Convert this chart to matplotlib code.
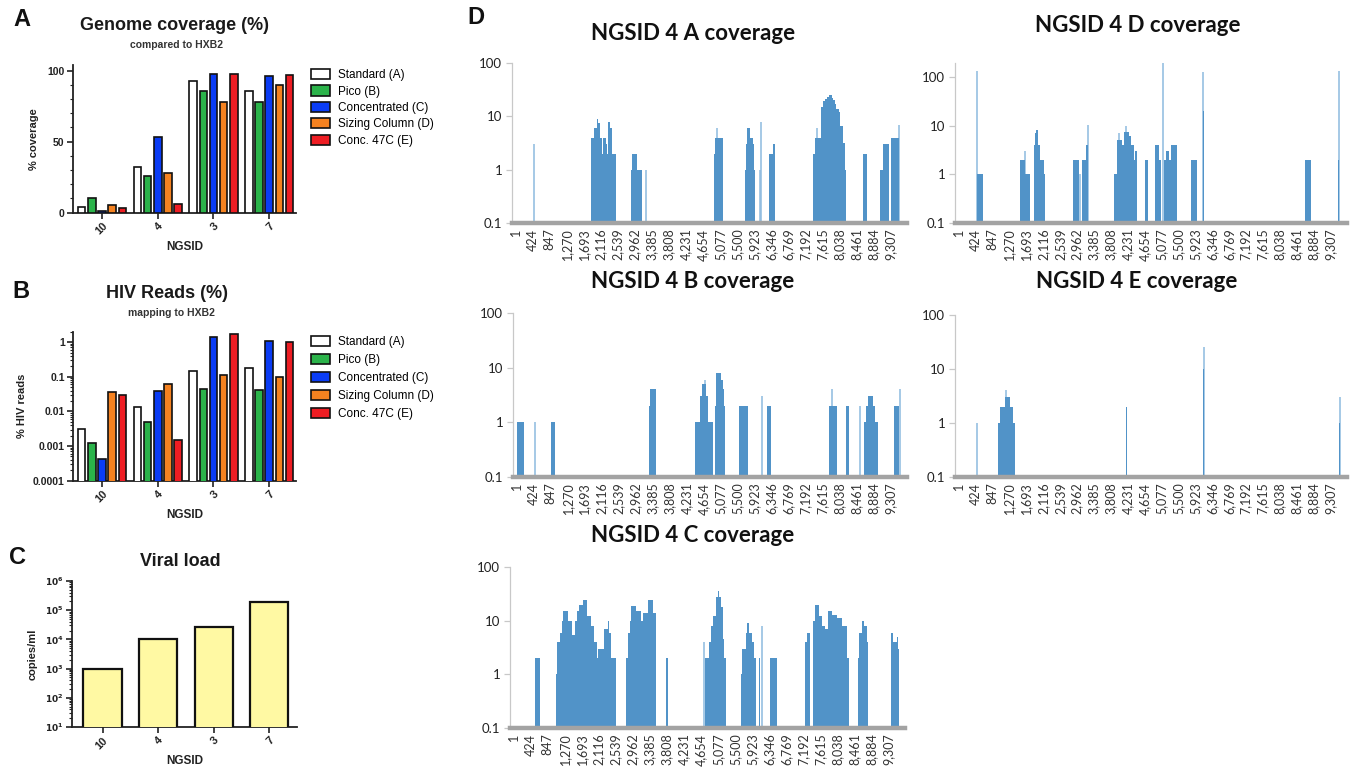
import matplotlib
matplotlib.use("Agg")
import matplotlib.pyplot as plt
from matplotlib.patches import Patch
from matplotlib.ticker import FixedLocator, NullFormatter, MultipleLocator, LogLocator

# ---------------------------------------------------------------- data
ngsid = ["10", "4", "3", "7"]
methods = ["Standard (A)", "Pico (B)", "Concentrated (C)", "Sizing Column (D)", "Conc. 47C (E)"]
method_colors = ["#ffffff", "#2bb34a", "#0a3cf5", "#f58220", "#ee1d23"]

# genome coverage (%) per method, columns follow ngsid order
coverage_standard = [4.2, 32, 93, 86]
coverage_pico = [10, 26, 86, 78]
coverage_conc = [1.2, 53, 97.6, 96]
coverage_sizing = [5.2, 28, 78, 90]
coverage_conc47 = [3, 6, 97.6, 96.7]

# HIV reads (%) per method
reads_standard = [0.0032, 0.013, 0.15, 0.178]
reads_pico = [0.0012, 0.005, 0.045, 0.042]
reads_conc = [0.00042, 0.039, 1.4, 1.07]
reads_sizing = [0.036, 0.061, 0.112, 0.098]
reads_conc47 = [0.030, 0.0015, 1.74, 1.0]

viral_load = [1000, 10000, 27000, 187000]

# depth of coverage along HXB2 for NGSID 4: (start, end, depth) runs and single-position peaks
cov4A_runs = [(1878, 1944, 4), (1944, 2010, 6), (2010, 2051, 9), (2051, 2093, 7.5), (2093, 2134, 4),
              (2134, 2167, 2), (2167, 2233, 4), (2233, 2275, 3), (2275, 2300, 2), (2300, 2341, 8),
              (2341, 2399, 6), (2399, 2482, 2),
              (2854, 2895, 1), (2895, 3003, 2), (3003, 3127, 1),
              (4922, 4947, 2), (4947, 5145, 4),
              (5691, 5724, 1), (5724, 5757, 3), (5757, 5832, 6), (5832, 5890, 4), (5890, 5915, 3), (5915, 5939, 1),
              (6303, 6394, 2), (6394, 6436, 3),
              (7379, 7428, 2), (7428, 7594, 4), (7594, 7627, 15), (7627, 7676, 19), (7676, 7734, 21),
              (7734, 7776, 23), (7776, 7858, 25), (7858, 7883, 22), (7883, 7941, 20), (7941, 7966, 17),
              (7966, 8024, 14), (8024, 8065, 12), (8065, 8123, 6.5), (8123, 8173, 3.2), (8173, 8206, 1),
              (8619, 8735, 2),
              (9058, 9116, 1), (9116, 9281, 3),
              (9331, 9513, 4)]
cov4A_peaks = [(455, 3), (3226, 1), (5005, 6), (6072, 1), (6105, 8), (7486, 6), (9520, 7)]

cov4B_runs = [(1, 182, 1), (844, 951, 1),
              (3292, 3325, 2), (3325, 3474, 4),
              (4442, 4566, 1), (4566, 4616, 3), (4616, 4715, 5), (4715, 4757, 3), (4757, 4881, 1),
              (4947, 4963, 2), (4963, 5088, 8), (5088, 5129, 6), (5129, 5145, 4), (5145, 5187, 2),
              (5526, 5749, 2), (6245, 6328, 2), (7776, 7982, 2), (8189, 8272, 2),
              (8644, 8702, 1), (8702, 8752, 2), (8752, 8876, 3), (8876, 8934, 2), (8934, 9000, 1),
              (9389, 9529, 2)]
cov4B_peaks = [(455, 1), (4690, 6), (6105, 3), (7858, 4), (8561, 2), (9535, 4)]

cov4C_runs = [(535, 659, 2),
              (1054, 1087, 1), (1087, 1153, 4), (1153, 1194, 6), (1194, 1235, 10), (1235, 1359, 15),
              (1359, 1441, 10), (1441, 1523, 5.5), (1523, 1570, 10), (1570, 1631, 15), (1631, 1720, 20),
              (1720, 1812, 24), (1812, 1911, 12), (1911, 1993, 8), (1993, 2059, 4), (2059, 2100, 2),
              (2100, 2240, 3), (2240, 2347, 7), (2347, 2372, 10), (2372, 2429, 6), (2429, 2553, 2),
              (2783, 2841, 2), (2841, 2880, 6), (2880, 2923, 10), (2923, 3047, 19), (3047, 3170, 15),
              (3170, 3212, 10), (3212, 3335, 14), (3335, 3459, 24), (3459, 3541, 14),
              (3772, 3830, 2),
              (4760, 4859, 2), (4859, 4900, 4), (4900, 4941, 8), (4941, 5023, 12), (5023, 5065, 28),
              (5065, 5106, 35), (5106, 5147, 28), (5147, 5188, 18), (5188, 5229, 4.5), (5229, 5270, 2),
              (5641, 5682, 1), (5682, 5765, 3), (5765, 5806, 6), (5806, 5847, 9), (5847, 5929, 6),
              (5929, 5970, 4), (5970, 6012, 2),
              (6100, 6120, 2), (6357, 6547, 2),
              (7247, 7288, 4), (7288, 7370, 6),
              (7428, 7477, 10), (7477, 7576, 20), (7576, 7658, 12), (7658, 7741, 8), (7741, 7806, 7),
              (7806, 7906, 15), (7906, 8029, 13), (8029, 8152, 11), (8152, 8276, 8), (8276, 8317, 2),
              (8548, 8589, 2), (8589, 8647, 6), (8647, 8713, 10), (8713, 8770, 8), (8770, 8795, 4),
              (9371, 9429, 6), (9429, 9511, 4), (9511, 9536, 5), (9536, 9569, 3)]
cov4C_peaks = [(4735, 4), (6176, 8)]

cov4D_runs = [(471, 620, 1),
              (1547, 1654, 2), (1654, 1778, 1),
              (1878, 1903, 4), (1903, 1944, 7), (1944, 1985, 8), (1985, 2027, 4), (2027, 2126, 2), (2126, 2167, 1),
              (2870, 3019, 2), (3085, 3185, 2), (3185, 3226, 4),
              (3888, 3971, 1), (3971, 4078, 5), (4078, 4136, 4), (4136, 4260, 7.5), (4260, 4318, 6),
              (4318, 4384, 4), (4384, 4426, 2), (4426, 4467, 3),
              (4674, 4740, 2),
              (4905, 5021, 4), (5021, 5063, 2), (5129, 5187, 2), (5187, 5269, 3), (5269, 5319, 2), (5319, 5460, 4),
              (5807, 5972, 2), (6110, 6135, 20), (8661, 8826, 2), (9500, 9525, 2)]
cov4D_peaks = [(455, 130), (1654, 3), (3044, 1), (3234, 10.5), (4020, 7), (4190, 10),
               (5104, 200), (6121, 128), (9513, 130)]

cov4E_runs = [(993, 1034, 1), (1034, 1158, 2), (1158, 1282, 3), (1282, 1365, 2), (1365, 1406, 1),
              (4177, 4215, 2), (6125, 6150, 10), (9525, 9550, 1)]
cov4E_peaks = [(455, 1), (1183, 4), (6138, 26), (9538, 3)]

genome_ticks = list(range(1, 9720, 423))

# ---------------------------------------------------------------- figure
W, H = 1353, 769
fig = plt.figure(figsize=(W / 100, H / 100), dpi=100)
SANS = ["Liberation Sans", "DejaVu Sans"]
XLS = ["Lato", "DejaVu Sans"]


def px_axes(left, top, right, bottom):
    return fig.add_axes([left / W, 1 - bottom / H, (right - left) / W, (bottom - top) / H])


def ftext(x, y, s, **kw):
    fig.text(x / W, 1 - y / H, s, ha="center", va="center", **kw)


def prism_axes(ax):
    for side in ("top", "right"):
        ax.spines[side].set_visible(False)
    for side in ("left", "bottom"):
        ax.spines[side].set_linewidth(1.3)
        ax.spines[side].set_color("#222222")
    ax.tick_params(axis="both", which="major", length=4, width=1.2, color="#222222")
    ax.tick_params(axis="both", which="minor", length=2, width=0.8, color="#222222")
    ax.tick_params(axis="y", labelsize=7.5, pad=2)
    ax.tick_params(axis="x", labelsize=8, pad=2)
    for lab in ax.get_xticklabels() + ax.get_yticklabels():
        lab.set_family(SANS)
        lab.set_fontweight("bold")
        lab.set_color("#222222")


def grouped_bars(ax, series):
    pitch, width = 0.183, 0.135
    for i, (vals, col) in enumerate(zip(series, method_colors)):
        xs = [g + (i - 2) * pitch for g in range(len(ngsid))]
        ax.bar(xs, vals, width=width, color=col, edgecolor="#111111", linewidth=1.2, zorder=3)
    ax.set_xticks(range(len(ngsid)))
    ax.set_xticklabels(ngsid, rotation=45, ha="right", rotation_mode="anchor")
    ax.set_xlim(-0.52, 3.48)


def legend(ax, x, y, spacing):
    handles = [Patch(facecolor=c, edgecolor="#111111", linewidth=1.2) for c in method_colors]
    ax.legend(handles, methods, loc="upper left", bbox_to_anchor=(x / W, 1 - y / H),
              bbox_transform=fig.transFigure, frameon=False, handlelength=1.6, handleheight=0.95,
              handletextpad=0.7, labelspacing=spacing, borderpad=0, borderaxespad=0,
              prop={"family": SANS, "size": 8.5})


# ---------------- panel A: genome coverage
axA = px_axes(73, 65, 296, 212.7)
grouped_bars(axA, [coverage_standard, coverage_pico, coverage_conc, coverage_sizing, coverage_conc47])
axA.set_ylim(0, 104)
axA.set_yticks([0, 50, 100])
axA.yaxis.set_minor_locator(MultipleLocator(10))
prism_axes(axA)
axA.set_ylabel("% coverage", family=SANS, fontweight="bold", fontsize=8, labelpad=6, color="#222222")
axA.set_xlabel("NGSID", family=SANS, fontweight="bold", fontsize=8.5, labelpad=3, color="#222222")
legend(axA, 311, 69, 0.36)
ftext(174, 25, "Genome coverage (%)", family=SANS, fontweight="bold", fontsize=13, color="#1a1a1a")
ftext(176, 45, "compared to HXB2", family=SANS, fontweight="bold", fontsize=7.5, color="#333333")
ftext(22, 20, "A", family=SANS, fontweight="bold", fontsize=17, color="#111111")

# ---------------- panel B: HIV reads
axB = px_axes(73, 331.7, 296, 480.7)
axB.set_yscale("log")
grouped_bars(axB, [reads_standard, reads_pico, reads_conc, reads_sizing, reads_conc47])
axB.set_ylim(1e-4, 2.0)
axB.set_yticks([1e-4, 1e-3, 1e-2, 1e-1, 1])
axB.set_yticklabels(["0.0001", "0.001", "0.01", "0.1", "1"])
axB.yaxis.set_minor_locator(LogLocator(base=10, subs=range(2, 10), numticks=20))
axB.yaxis.set_minor_formatter(NullFormatter())
prism_axes(axB)
axB.set_ylabel("% HIV reads", family=SANS, fontweight="bold", fontsize=8, labelpad=4, color="#222222")
axB.set_xlabel("NGSID", family=SANS, fontweight="bold", fontsize=8.5, labelpad=3, color="#222222")
legend(axB, 311, 336, 0.5)
ftext(167, 294, "HIV Reads (%)", family=SANS, fontweight="bold", fontsize=13, color="#1a1a1a")
ftext(171, 313, "mapping to HXB2", family=SANS, fontweight="bold", fontsize=7.5, color="#333333")
ftext(21, 291, "B", family=SANS, fontweight="bold", fontsize=17, color="#111111")

# ---------------- panel C: viral load
axC = px_axes(72, 581, 297, 727)
axC.set_yscale("log")
axC.bar(range(len(ngsid)), viral_load, width=0.69, color="#fff9a3", edgecolor="#111111",
        linewidth=1.6, zorder=3)
axC.set_xticks(range(len(ngsid)))
axC.set_xticklabels(ngsid, rotation=45, ha="right", rotation_mode="anchor")
axC.set_xlim(-0.55, 3.5)
axC.set_ylim(10, 1e6)
axC.set_yticks([10 ** k for k in range(1, 7)])
axC.set_yticklabels([r"$\mathbf{10^{%d}}$" % k for k in range(1, 7)])
axC.yaxis.set_minor_locator(LogLocator(base=10, subs=range(2, 10), numticks=20))
axC.yaxis.set_minor_formatter(NullFormatter())
prism_axes(axC)
axC.tick_params(axis="y", labelsize=6.5)
axC.set_ylabel("copies/ml", family=SANS, fontweight="bold", fontsize=8, labelpad=5, color="#222222")
axC.set_xlabel("NGSID", family=SANS, fontweight="bold", fontsize=8.5, labelpad=3, color="#222222")
ftext(180, 561, "Viral load", family=SANS, fontweight="bold", fontsize=13, color="#1a1a1a")
ftext(17, 558, "C", family=SANS, fontweight="bold", fontsize=17, color="#111111")

# ---------------- panel D: per-position coverage
ftext(476, 18, "D", family=SANS, fontweight="bold", fontsize=17, color="#111111")
BLUE = "#5193c8"
LIGHT = "#8dbadf"


def coverage_axes(box, runs, peaks, title, title_xy, ytop=100):
    ax = px_axes(*box)
    ax.set_yscale("log")
    starts = [r[0] for r in runs]
    widths = [max(r[1] - r[0], 24) for r in runs]
    depths = [r[2] for r in runs]
    ax.bar(starts, depths, width=widths, align="edge", color=BLUE, linewidth=0, zorder=2)
    ax.vlines([p[0] for p in peaks], 0.1, [p[1] for p in peaks], color=LIGHT, linewidth=1.1, zorder=1)
    ax.set_xlim(-90, 9719)
    ax.set_ylim(0.1, ytop)
    ax.set_yticks([0.1, 1, 10, 100])
    ax.set_yticklabels(["0.1", "1", "10", "100"])
    ax.yaxis.set_minor_locator(FixedLocator([]))
    ax.set_xticks(genome_ticks)
    ax.set_xticklabels([f"{v:,}" for v in genome_ticks], rotation=90)
    for side in ("top", "right"):
        ax.spines[side].set_visible(False)
    ax.spines["left"].set_color("#c8c8c8")
    ax.spines["left"].set_linewidth(0.9)
    ax.spines["bottom"].set_color("#a3a3a3")
    ax.spines["bottom"].set_linewidth(3.2)
    ax.tick_params(axis="x", length=0, pad=4, labelsize=9, labelcolor="#333333")
    ax.tick_params(axis="y", length=4, width=0.9, color="#c8c8c8", pad=3, labelsize=9.5,
                   labelcolor="#222222")
    for lab in ax.get_xticklabels() + ax.get_yticklabels():
        lab.set_family(XLS)
    ftext(*title_xy, title, family=XLS, fontweight="bold", fontsize=16, color="#111111")
    return ax


coverage_axes((512, 63, 907, 223), cov4A_runs, cov4A_peaks, "NGSID 4 A coverage", (693, 33))
coverage_axes((955, 63.3, 1347, 223), cov4D_runs, cov4D_peaks, "NGSID 4 D coverage", (1138, 26), ytop=190)
coverage_axes((513, 313, 907, 477), cov4B_runs, cov4B_peaks, "NGSID 4 B coverage", (693, 282))
coverage_axes((955, 315, 1347, 477), cov4E_runs, cov4E_peaks, "NGSID 4 E coverage", (1137, 282))
coverage_axes((510, 567, 905, 728), cov4C_runs, cov4C_peaks, "NGSID 4 C coverage", (693, 535))

fig.savefig("out.png", dpi=100)
